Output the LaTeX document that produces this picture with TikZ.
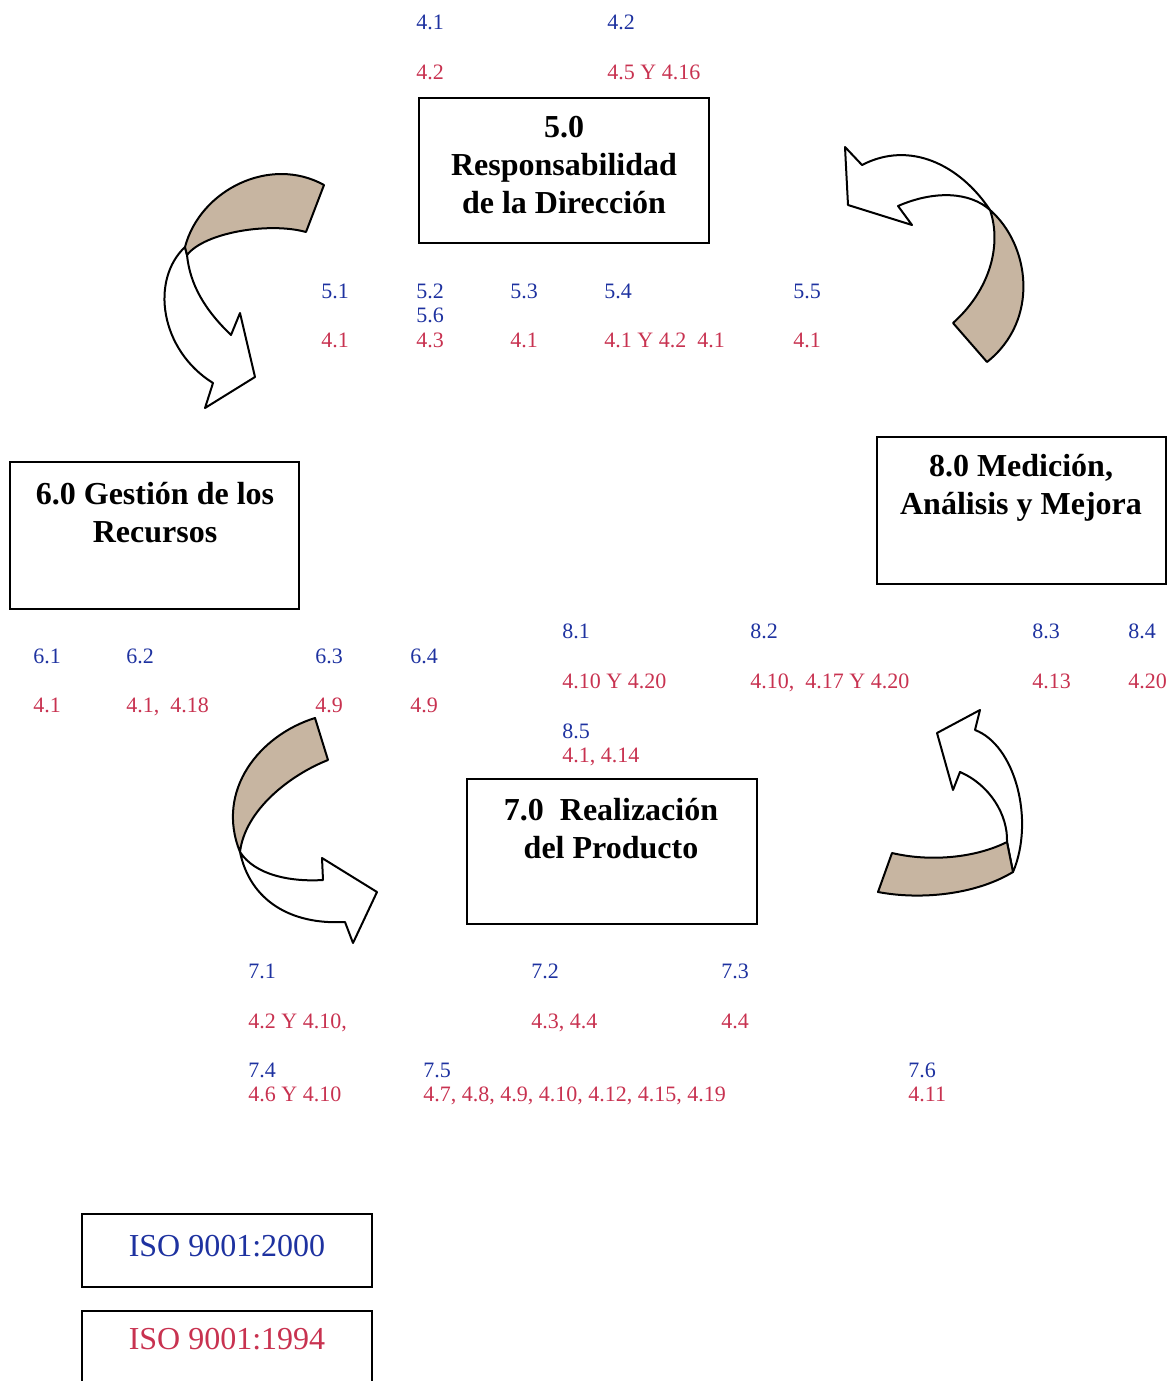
\documentclass[tikz,border=0pt]{standalone}
\usepackage{fontspec}
\setmainfont{Liberation Serif}
\definecolor{isoblue}{RGB}{30,50,160}
\definecolor{isored}{RGB}{200,50,80}
\definecolor{band}{RGB}{199,181,161}
\begin{document}
\begin{tikzpicture}[x=0.5pt,y=-0.5pt,
  mainbox/.style={draw,line width=1pt,minimum width=145pt,minimum height=72.5pt,inner sep=0pt},
  title/.style={font=\fontsize{16}{19}\selectfont\bfseries,align=center,inner sep=0pt},
  lbase/.style={anchor=west,inner sep=0pt,text height=7.6pt,text depth=0pt,font=\fontsize{11}{12}\selectfont},
  lb/.style={lbase,text=isoblue},
  lr/.style={lbase,text=isored},
  arrowwhite/.style={draw,line width=1pt,fill=white,line join=round},
  arrowband/.style={draw,line width=1pt,fill=band,line join=round}]
\useasboundingbox (0,0) rectangle (1174,1381);

% boxes
\node[mainbox] (b5) at (564,170.5) {};
\node[title] (t5) at (564,165) {5.0\\Responsabilidad\\de la Direcci\'on};
\node[mainbox,minimum width=144.5pt,minimum height=73.5pt] (b6) at (154.5,535.5) {};
\node[title] (t6) at (155,513) {6.0 Gesti\'on de los\\Recursos};
\node[mainbox,minimum width=144.5pt,minimum height=73.5pt] (b8) at (1021.5,510.5) {};
\node[title] (t8) at (1021,488) {8.0 Medici\'on,\\An\'alisis y Mejora};
\node[mainbox] (b7) at (612,851.5) {};
\node[title] (t7) at (611,829) {7.0\ \ Realizaci\'on\\del Producto};
\node[mainbox,minimum height=36.5pt] (k1) at (227,1250.5) {};
\node[inner sep=0pt,text=isoblue,font=\fontsize{16}{19}\selectfont] (k1t) at (227,1246) {ISO 9001:2000};
\node[mainbox,minimum height=42pt] (k2) at (227,1353) {};
\node[inner sep=0pt,text=isored,font=\fontsize{16}{19}\selectfont] (k2t) at (227,1339) {ISO 9001:1994};

% curved arrow 1 (top left)
\path[arrowwhite] (185,247) .. controls (150,280) and (160,350) .. (213,383) -- (205,408) -- (255,377) -- (240,313) -- (231,335) .. controls (205,310) and (190,285) .. (187,255) -- cycle;
\path[arrowband] (185,247) .. controls (200,190) and (270,155) .. (324,185) -- (306,232) .. controls (270,222) and (205,232) .. (187,255) -- cycle;

% curved arrow 2 (top right)
\path[arrowwhite] (990,210) .. controls (960,165) and (910,140) .. (862,165) -- (845,147) -- (848,205) -- (912,225) -- (898,206) .. controls (935,190) and (970,192) .. (990,210) -- cycle;
\path[arrowband] (990,210) .. controls (1030,245) and (1040,320) .. (987,362) -- (953,323) .. controls (990,290) and (1002,245) .. (990,210) -- cycle;

% curved arrow 3 (bottom left)
\path[arrowwhite] (240,852) .. controls (255,875) and (290,882) .. (323,880) -- (322,858) -- (377,892) -- (353,943) -- (345,922) .. controls (290,925) and (250,900) .. (240,852) -- cycle;
\path[arrowband] (315,718) -- (328,760) .. controls (290,775) and (245,810) .. (240,852) .. controls (215,790) and (260,735) .. (315,718) -- cycle;

% curved arrow 4 (bottom right)
\path[arrowwhite] (1007,842) .. controls (1008,815) and (990,785) .. (960,772) -- (953,790) -- (937,733) -- (980,710) -- (975,730) .. controls (1015,745) and (1035,820) .. (1013,872) -- cycle;
\path[arrowband] (892,853) .. controls (930,862) and (975,858) .. (1007,842) -- (1013,872) .. controls (975,895) and (920,900) .. (878,892) -- cycle;

% labels top
\node[lb] (a1) at (416,22) {4.1};
\node[lb] (a2) at (607,22) {4.2};
\node[lr] (a3) at (416,72) {4.2};
\node[lr] (a4) at (607,72) {4.5 Y 4.16};

% labels row 5
\node[lb] (c1) at (321,291) {5.1};
\node[lb] (c2) at (416,291) {5.2};
\node[lb] (c3) at (510,291) {5.3};
\node[lb] (c4) at (604,291) {5.4};
\node[lb] (c5) at (793,291) {5.5};
\node[lb] (c6) at (416,315) {5.6};
\node[lr] (d1) at (321,340) {4.1};
\node[lr] (d2) at (416,340) {4.3};
\node[lr] (d3) at (510,340) {4.1};
\node[lr] (d4) at (604,340) {4.1 Y 4.2};
\node[lr] (d5) at (697,340) {4.1};
\node[lr] (d6) at (793,340) {4.1};

% labels row 6
\node[lb] (e1) at (33,656) {6.1};
\node[lb] (e2) at (126,656) {6.2};
\node[lb] (e3) at (315,656) {6.3};
\node[lb] (e4) at (410,656) {6.4};
\node[lr] (f1) at (33,705) {4.1};
\node[lr] (f2) at (126,705) {4.1,\ \ 4.18};
\node[lr] (f3) at (315,705) {4.9};
\node[lr] (f4) at (410,705) {4.9};

% labels row 8
\node[lb] (g1) at (562,631) {8.1};
\node[lb] (g2) at (750,631) {8.2};
\node[lb] (g3) at (1032,631) {8.3};
\node[lb] (g4) at (1128,631) {8.4};
\node[lr] (h1) at (562,681) {4.10 Y 4.20};
\node[lr] (h2) at (750,681) {4.10,\ \ 4.17 Y 4.20};
\node[lr] (h3) at (1032,681) {4.13};
\node[lr] (h4) at (1128,681) {4.20};
\node[lb] (g5) at (562,731) {8.5};
\node[lr] (h5) at (562,755) {4.1, 4.14};

% labels row 7
\node[lb] (m1) at (248,971) {7.1};
\node[lb] (m2) at (531,971) {7.2};
\node[lb] (m3) at (721,971) {7.3};
\node[lr] (n1) at (248,1021) {4.2 Y 4.10,};
\node[lr] (n2) at (531,1021) {4.3, 4.4};
\node[lr] (n3) at (721,1021) {4.4};
\node[lb] (m4) at (248,1070) {7.4};
\node[lb] (m5) at (423,1070) {7.5};
\node[lb] (m6) at (908,1070) {7.6};
\node[lr] (n4) at (248,1094) {4.6 Y 4.10};
\node[lr] (n5) at (423,1094) {4.7, 4.8, 4.9, 4.10, 4.12, 4.15, 4.19};
\node[lr] (n6) at (908,1094) {4.11};
\end{tikzpicture}
\end{document}
